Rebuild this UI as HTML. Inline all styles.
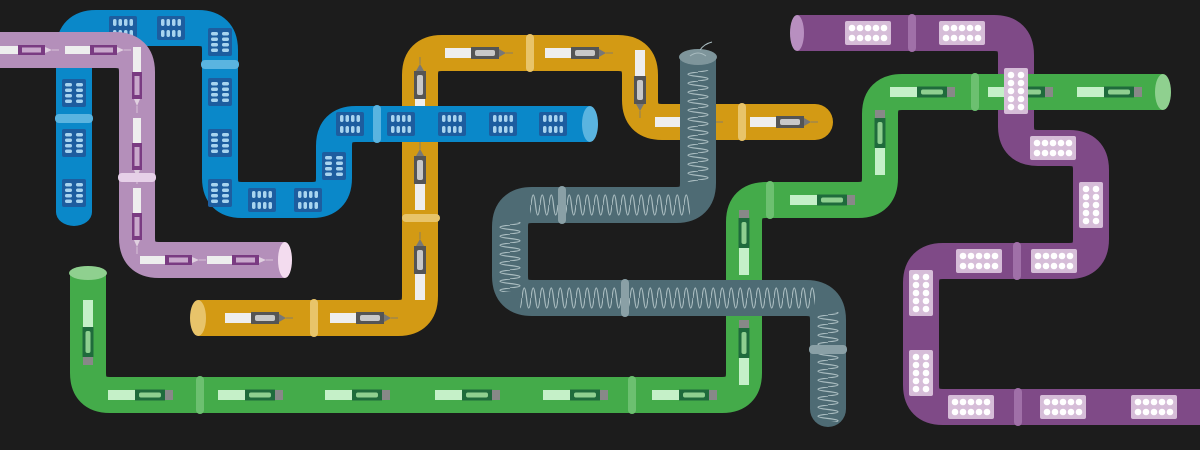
<!DOCTYPE html>
<html><head><meta charset="utf-8"><style>html,body{margin:0;padding:0;background:#1c1c1c;width:1200px;height:450px;overflow:hidden}</style></head>
<body>
<svg width="1200" height="450" viewBox="0 0 1200 450" xmlns="http://www.w3.org/2000/svg">
<defs>
<g id="penL"><rect x="0" y="-4" width="25" height="8" fill="#eeeeee"/><rect x="25" y="-5" width="27" height="10" fill="#7a3b82"/><rect x="29" y="-2.5" width="19" height="5" fill="#c9a8cc"/><polygon points="52,-3 59,0 52,3" fill="#e0d0e0"/><line x1="59" y1="0" x2="66" y2="0" stroke="#e0d0e0" stroke-width="0.8"/></g>
<g id="penO"><rect x="0" y="-5" width="26" height="10" fill="#eeeeee"/><rect x="26" y="-6" width="28" height="12" fill="#555"/><rect x="30" y="-3" width="20" height="6" rx="2" fill="#c8c8c8"/><polygon points="54,-4 61,0 54,4" fill="#777"/><line x1="61" y1="0" x2="68" y2="0" stroke="#777" stroke-width="0.8"/></g>
<g id="penG"><rect x="0" y="-5" width="27" height="10" fill="#c5f0c8"/><rect x="27" y="-5.5" width="30" height="11" fill="#1f6b3c"/><rect x="31" y="-2.5" width="22" height="5" rx="2" fill="#8fcf90"/><rect x="57" y="-5" width="8" height="10" fill="#888"/></g>
<g id="bH"><rect x="-14" y="-12" width="28" height="24" rx="2" fill="#1d5d9f"/><g fill="#a8d4ef"><rect x="-10" y="-9" width="3.5" height="7" rx="1.7"/><rect x="-4.5" y="-9" width="3.5" height="7" rx="1.7"/><rect x="1" y="-9" width="3.5" height="7" rx="1.7"/><rect x="6.5" y="-9" width="3.5" height="7" rx="1.7"/><rect x="-10" y="2" width="3.5" height="7" rx="1.7"/><rect x="-4.5" y="2" width="3.5" height="7" rx="1.7"/><rect x="1" y="2" width="3.5" height="7" rx="1.7"/><rect x="6.5" y="2" width="3.5" height="7" rx="1.7"/></g></g>
<g id="bV"><use href="#bH" transform="rotate(90)"/></g>
<g id="pH"><rect x="-23" y="-12" width="46" height="24" rx="2" fill="#d6bdd8"/><g fill="#fff"><circle cx="-16" cy="-5" r="3.3"/><circle cx="-8" cy="-5" r="3.3"/><circle cx="0" cy="-5" r="3.3"/><circle cx="8" cy="-5" r="3.3"/><circle cx="16" cy="-5" r="3.3"/><circle cx="-16" cy="5" r="3.3"/><circle cx="-8" cy="5" r="3.3"/><circle cx="0" cy="5" r="3.3"/><circle cx="8" cy="5" r="3.3"/><circle cx="16" cy="5" r="3.3"/></g></g>
<g id="pV"><use href="#pH" transform="rotate(90)"/></g>
<pattern id="wH1" patternUnits="userSpaceOnUse" x="0" y="193" width="9" height="24"><path d="M0,12 Q2.25,-8 4.5,12 Q6.75,32 9,12" fill="none" stroke="#a9bcc0" stroke-width="1.2"/></pattern>
<pattern id="wH2" patternUnits="userSpaceOnUse" x="0" y="286" width="9" height="24"><path d="M0,12 Q2.25,-8 4.5,12 Q6.75,32 9,12" fill="none" stroke="#a9bcc0" stroke-width="1.2"/></pattern>
<pattern id="wV1" patternUnits="userSpaceOnUse" x="686" y="0" width="24" height="9"><path d="M12,0 Q-8,2.25 12,4.5 Q32,6.75 12,9" fill="none" stroke="#a9bcc0" stroke-width="1.2"/></pattern>
<pattern id="wV2" patternUnits="userSpaceOnUse" x="498" y="0" width="24" height="9"><path d="M12,0 Q-8,2.25 12,4.5 Q32,6.75 12,9" fill="none" stroke="#a9bcc0" stroke-width="1.2"/></pattern>
<pattern id="wV3" patternUnits="userSpaceOnUse" x="816" y="0" width="24" height="9"><path d="M12,0 Q-8,2.25 12,4.5 Q32,6.75 12,9" fill="none" stroke="#a9bcc0" stroke-width="1.2"/></pattern>
</defs>
<g fill="none" stroke-width="36" stroke-linecap="butt">
<path d="M797,33 L994,33 Q1016,33 1016,55 L1016,126 Q1016,148 1038,148 L1069,148 Q1091,148 1091,170 L1091,239 Q1091,261 1069,261 L943,261 Q921,261 921,283 L921,385 Q921,407 943,407 L1200,407" stroke="#7f4a87"/>
<path d="M88,273 L88,373 Q88,395 110,395 L722,395 Q744,395 744,373 L744,222 Q744,200 766,200 L858,200 Q880,200 880,178 L880,114 Q880,92 902,92 L1163,92" stroke="#44ab4a"/>
<path d="M198,318 L398,318 Q420,318 420,296 L420,75 Q420,53 442,53 L618,53 Q640,53 640,75 L640,100 Q640,122 662,122 L815,122" stroke="#d39a14"/>
</g>
<circle cx="815" cy="122" r="18" fill="#d39a14"/>
<ellipse cx="198" cy="318" rx="8" ry="18" fill="#e8c46a"/>
<use href="#penO" transform="translate(225,318)"/><use href="#penO" transform="translate(330,318)"/>
<use href="#penO" transform="translate(420,300) rotate(-90)"/><use href="#penO" transform="translate(420,210) rotate(-90)"/><use href="#penO" transform="translate(420,125) rotate(-90)"/>
<use href="#penO" transform="translate(445,53)"/><use href="#penO" transform="translate(545,53)"/>
<use href="#penO" transform="translate(640,50) rotate(90)"/>
<use href="#penO" transform="translate(655,122)"/><use href="#penO" transform="translate(750,122)"/>
<rect x="310" y="299" width="8" height="38" rx="4" fill="#e8c46a"/><rect x="402" y="214" width="38" height="8" rx="4" fill="#e8c46a"/><rect x="526" y="34" width="8" height="38" rx="4" fill="#e8c46a"/><rect x="738" y="103" width="8" height="38" rx="4" fill="#e8c46a"/>
<ellipse cx="88" cy="273" rx="19" ry="7" fill="#8fd08f"/>
<use href="#penG" transform="translate(88,300) rotate(90)"/>
<use href="#penG" transform="translate(108,395)"/><use href="#penG" transform="translate(218,395)"/><use href="#penG" transform="translate(325,395)"/><use href="#penG" transform="translate(435,395)"/><use href="#penG" transform="translate(543,395)"/><use href="#penG" transform="translate(652,395)"/>
<use href="#penG" transform="translate(744,275) rotate(-90)"/><use href="#penG" transform="translate(744,385) rotate(-90)"/>
<use href="#penG" transform="translate(790,200)"/>
<use href="#penG" transform="translate(880,175) rotate(-90)"/>
<use href="#penG" transform="translate(890,92)"/><use href="#penG" transform="translate(988,92)"/><use href="#penG" transform="translate(1077,92)"/>
<ellipse cx="1163" cy="92" rx="8" ry="18" fill="#8fd08f"/>
<rect x="196" y="376" width="8" height="38" rx="4" fill="#6cc070"/><rect x="628" y="376" width="8" height="38" rx="4" fill="#6cc070"/><rect x="766" y="181" width="8" height="38" rx="4" fill="#6cc070"/><rect x="971" y="73" width="8" height="38" rx="4" fill="#6cc070"/>
<ellipse cx="797" cy="33" rx="7" ry="18" fill="#b88fc0"/>
<rect x="908" y="14" width="8" height="38" rx="4" fill="#a070a8"/><rect x="1013" y="242" width="8" height="38" rx="4" fill="#a070a8"/><rect x="1014" y="388" width="8" height="38" rx="4" fill="#a070a8"/>
<use href="#pH" transform="translate(868,33)"/><use href="#pH" transform="translate(962,33)"/>
<use href="#pH" transform="translate(1053,148)"/><use href="#pV" transform="translate(1091,205)"/>
<use href="#pH" transform="translate(979,261)"/><use href="#pH" transform="translate(1054,261)"/>
<use href="#pV" transform="translate(921,293)"/><use href="#pV" transform="translate(921,373)"/>
<use href="#pH" transform="translate(971,407)"/><use href="#pH" transform="translate(1063,407)"/><use href="#pH" transform="translate(1154,407)"/>
<path d="M74,212 L74,50 Q74,28 96,28 L198,28 Q220,28 220,50 L220,178 Q220,200 242,200 L312,200 Q334,200 334,178 L334,146 Q334,124 356,124 L590,124" fill="none" stroke="#0a88c9" stroke-width="36"/>
<ellipse cx="74" cy="212" rx="18" ry="14" fill="#0a88c9"/>
<ellipse cx="590" cy="124" rx="8" ry="18" fill="#5ab4e0"/>
<use href="#bV" transform="translate(74,93)"/><use href="#bV" transform="translate(74,143)"/><use href="#bV" transform="translate(74,193)"/>
<use href="#bH" transform="translate(123,28)"/><use href="#bH" transform="translate(171,28)"/>
<use href="#bV" transform="translate(220,42)"/><use href="#bV" transform="translate(220,92)"/><use href="#bV" transform="translate(220,143)"/><use href="#bV" transform="translate(220,193)"/>
<use href="#bH" transform="translate(262,200)"/><use href="#bH" transform="translate(308,200)"/>
<use href="#bV" transform="translate(334,166)"/>
<use href="#bH" transform="translate(350,124)"/><use href="#bH" transform="translate(401,124)"/><use href="#bH" transform="translate(452,124)"/><use href="#bH" transform="translate(503,124)"/><use href="#bH" transform="translate(553,124)"/>
<rect x="55" y="114" width="38" height="9" rx="4" fill="#5ab4e0"/><rect x="201" y="60" width="38" height="9" rx="4" fill="#5ab4e0"/><rect x="373" y="105" width="8" height="38" rx="4" fill="#5ab4e0"/>
<path d="M0,50 L115,50 Q137,50 137,72 L137,238 Q137,260 159,260 L285,260" fill="none" stroke="#b48fba" stroke-width="36"/>
<ellipse cx="285" cy="260" rx="7" ry="18" fill="#f3dcef"/>
<use href="#penL" transform="translate(-7,50)"/><use href="#penL" transform="translate(65,50)"/>
<use href="#penL" transform="translate(137,47) rotate(90)"/><use href="#penL" transform="translate(137,118) rotate(90)"/><use href="#penL" transform="translate(137,188) rotate(90)"/>
<use href="#penL" transform="translate(140,260)"/><use href="#penL" transform="translate(207,260)"/>
<rect x="118" y="173" width="38" height="9" rx="4" fill="#e6d0e8"/>
<path d="M698,57 L698,183 Q698,205 676,205 L532,205 Q510,205 510,227 L510,276 Q510,298 532,298 L806,298 Q828,298 828,320 L828,409" fill="none" stroke="#4e6b74" stroke-width="36"/>
<circle cx="828" cy="409" r="18" fill="#4e6b74"/>
<rect x="686" y="70" width="24" height="112" fill="url(#wV1)"/>
<rect x="530" y="193" width="160" height="24" fill="url(#wH1)"/>
<rect x="498" y="222" width="24" height="70" fill="url(#wV2)"/>
<rect x="520" y="286" width="295" height="24" fill="url(#wH2)"/>
<rect x="816" y="312" width="24" height="110" fill="url(#wV3)"/>
<ellipse cx="698" cy="57" rx="19" ry="8" fill="#7e959b"/>
<path d="M690,56 Q698,50 706,56 M700,50 Q704,44 712,42" fill="none" stroke="#a9bcc0" stroke-width="1"/>
<rect x="558" y="186" width="8" height="38" rx="4" fill="#8aa0a6"/><rect x="621" y="279" width="8" height="38" rx="4" fill="#8aa0a6"/><rect x="809" y="345" width="38" height="9" rx="4" fill="#8aa0a6"/>
<use href="#pV" transform="translate(1016,91)"/>
</svg>
</body></html>
